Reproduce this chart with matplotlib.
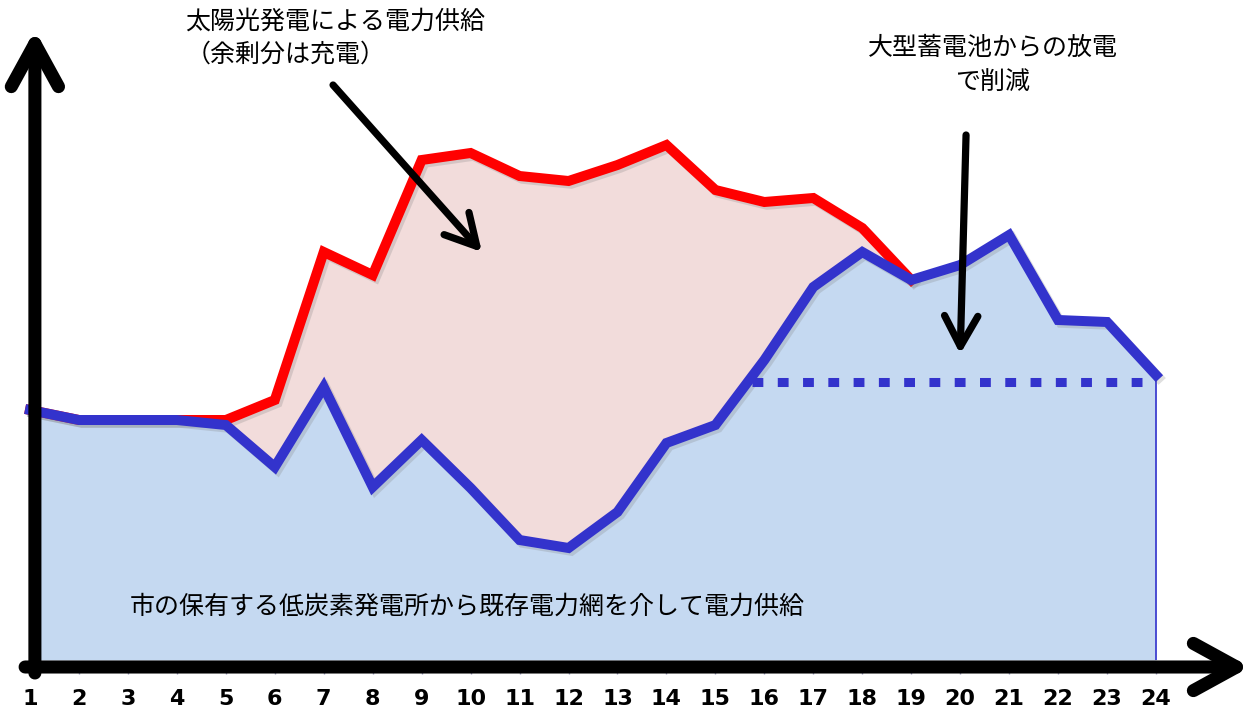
import matplotlib.pyplot as plt
import matplotlib.patheffects as pe

# hourly supply profile (arbitrary units, 0 = baseline)
hours = list(range(1, 25))
solar_total = [250, 240, 240, 240, 240, 260, 408, 385, 500, 507, 484, 479,
               495, 515, 470, 458, 462, 432, 380, 395, 425, 340, 338, 285]
grid_supply = [250, 240, 240, 240, 235, 193, 273, 173, 220, 172, 120, 112,
               148, 217, 235, 300, 373, 408, 380, 395, 425, 340, 338, 285]
solar_end = 19  # red line merges into blue from here on
battery_cap_level = 278
battery_cap_start = 15.75

label_solar = ['太陽光発電による電力供給', '（余剰分は充電）']
label_battery = ['大型蓄電池からの放電', 'で削減']
label_grid = '市の保有する低炭素発電所から既存電力網を介して電力供給'

jp_font = ['Noto Sans CJK JP', 'DejaVu Sans']

fig = plt.figure(figsize=(12.47, 7.11), dpi=100)
ax = fig.add_axes([0, 44 / 711, 1, 667 / 711])
ax.set_xlim(1 - 30 / 48.96, 24 + 91 / 48.96)
ax.set_ylim(-7, 660)

shadow = [pe.SimpleLineShadow(offset=(2, -2), alpha=0.25, shadow_color='gray'), pe.Normal()]

ax.fill_between(hours, 0, grid_supply, color='#C5D9F1', lw=0, zorder=1)
ax.fill_between(hours, grid_supply, solar_total, color='#F2DCDB', lw=0, zorder=1)
ax.vlines(hours[-1], 0, grid_supply[-1], color='#3333CC', lw=1.2, zorder=2)

ax.plot(hours[:solar_end], solar_total[:solar_end], color='#FF0000', lw=7.2,
        solid_joinstyle='miter', path_effects=shadow, zorder=3)
ax.plot(hours, grid_supply, color='#3333CC', lw=7.2, solid_joinstyle='miter',
        path_effects=shadow, zorder=4)
ax.hlines(battery_cap_level, battery_cap_start, hours[-1], color='#3333CC',
          lw=6.5, linestyles=(0, (1.2, 1.6)), capstyle='butt', zorder=4)

# axes drawn as thick arrows
axis_kw = dict(arrowstyle='->,head_length=31,head_width=17', lw=9.4,
               color='black', capstyle='round', joinstyle='round',
               mutation_scale=1, shrinkA=0, shrinkB=0)
ax.annotate('', xy=(1.1, 630), xytext=(1.1, -13), arrowprops=axis_kw,
            annotation_clip=False, zorder=6)
ax.annotate('', xy=(25.92, -7), xytext=(0.9, -7), arrowprops=axis_kw,
            annotation_clip=False, zorder=6)

# pointer arrows
ptr_kw = dict(arrowstyle='->,head_length=22,head_width=12', lw=5.2,
              color='black', capstyle='round', joinstyle='round',
              mutation_scale=1, shrinkA=0, shrinkB=0)
ax.annotate('', xy=(10.23, 408), xytext=(7.19, 575), arrowprops=ptr_kw, zorder=5)
ax.annotate('', xy=(20.0, 306), xytext=(20.12, 525), arrowprops=ptr_kw, zorder=5)

ax.text(4.17, 638, label_solar[0], fontsize=18, family=jp_font, ha='left', va='center')
ax.text(4.17, 605, label_solar[1], fontsize=18, family=jp_font, ha='left', va='center')
ax.text(20.66, 612, label_battery[0], fontsize=18, family=jp_font, ha='center', va='center')
ax.text(20.66, 578, label_battery[1], fontsize=18, family=jp_font, ha='center', va='center')
ax.text(3.04, 53, label_grid, fontsize=18, family=jp_font, ha='left', va='center', zorder=5)

for s in ax.spines.values():
    s.set_visible(False)
ax.set_yticks([])
ax.set_xticks(hours)
ax.set_xticklabels([str(h) for h in hours], fontsize=16, fontweight='bold')
ax.tick_params(axis='x', direction='out', length=5, width=1, color='#9999BB', pad=11)

fig.savefig('out.png', dpi=100)
